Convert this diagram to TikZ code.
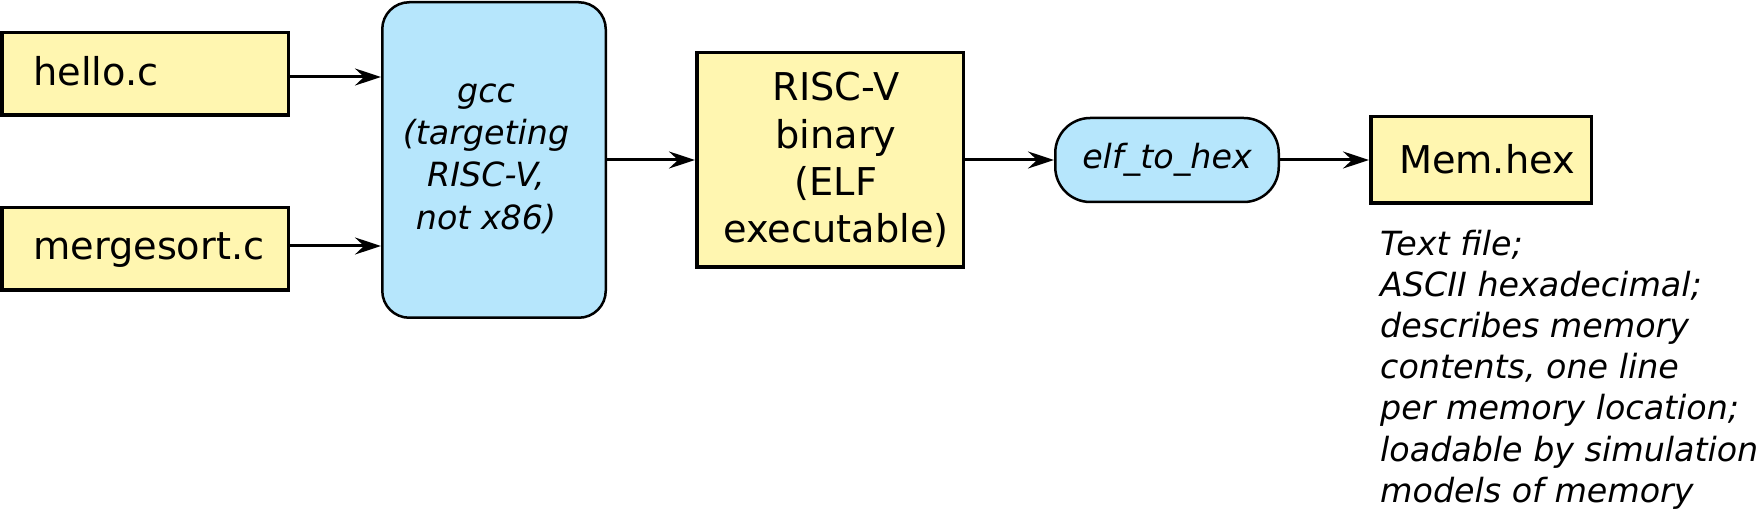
\documentclass[tikz,border=0pt]{standalone}
\usepackage{fontspec}
\setmainfont{DejaVu Sans}[ItalicFont={DejaVu Sans Oblique}]
\usetikzlibrary{arrows.meta}
\definecolor{boxyellow}{RGB}{255,246,176}
\definecolor{boxblue}{RGB}{182,230,252}
\tikzset{
  ybox/.style={draw=black, line width=3.5pt, fill=boxyellow, rectangle, inner sep=0pt},
  bbox/.style={draw=black, line width=2.5pt, fill=boxblue, rectangle, rounded corners=#1, inner sep=0pt},
  bigtext/.style={font=\fontsize{38.3}{47.2}\selectfont, inner sep=0pt},
  ittext/.style={font=\fontsize{33.3}{42.4}\selectfont\itshape, inner sep=0pt},
  notetext/.style={font=\fontsize{33.3}{41.2}\selectfont\itshape, inner sep=0pt},
  arr/.style={line width=3pt, -{Stealth[length=26pt, width=17pt, inset=9pt]}},
}
\begin{document}
\begin{tikzpicture}[x=1pt, y=-1pt]
\useasboundingbox (0,0) rectangle (1759,510);
\clip (0,0) rectangle (1759,510);
% boxes
\node[ybox, minimum width=286.5pt, minimum height=82.5pt] (hello) at (145,74) {};
\node[ybox, minimum width=286.5pt, minimum height=82.5pt] (merge) at (145,249) {};
\node[bbox=27pt, minimum width=223.5pt, minimum height=315.5pt] (gcc) at (494,160) {};
\node[ybox, minimum width=266.5pt, minimum height=214.5pt] (risc) at (830,160) {};
\node[bbox=35pt, minimum width=223.5pt, minimum height=84pt, ittext] (elf) at (1167,160) {elf\_to\_hex};
\node[ybox, minimum width=220.5pt, minimum height=86.5pt] (mem) at (1481,160) {};
% texts
\node[bigtext, anchor=base west] (hello-t) at (33,86) {hello.c};
\node[bigtext, anchor=base west] (merge-t) at (33,260) {mergesort.c};
\node[ittext, align=center] (gcc-t) at (486,158.5) {gcc\\(targeting\\RISC-V,\\not x86)};
\node[bigtext, align=center] (risc-t) at (836,160) {RISC-V\\binary\\(ELF\\executable)};
\node[bigtext, anchor=base] (mem-t) at (1487,173.3) {Mem.hex};
\node[notetext, align=left, anchor=north west] (note) at (1380,229.5)
  {Text file;\\ASCII hexadecimal;\\describes memory\\contents, one line\\per memory location;\\loadable by simulation\\models of memory};
% connectors
\coordinate (h-out) at ([yshift=-3pt]hello.east);
\coordinate (m-out) at ([yshift=3pt]merge.east);
\draw[arr] (h-out) -- (h-out -| gcc.west);
\draw[arr] (m-out) -- (m-out -| gcc.west);
\draw[arr] (gcc.east) -- (risc.west);
\draw[arr] (risc.east) -- (elf.west);
\draw[arr] (elf.east) -- (mem.west);
\end{tikzpicture}
\end{document}
